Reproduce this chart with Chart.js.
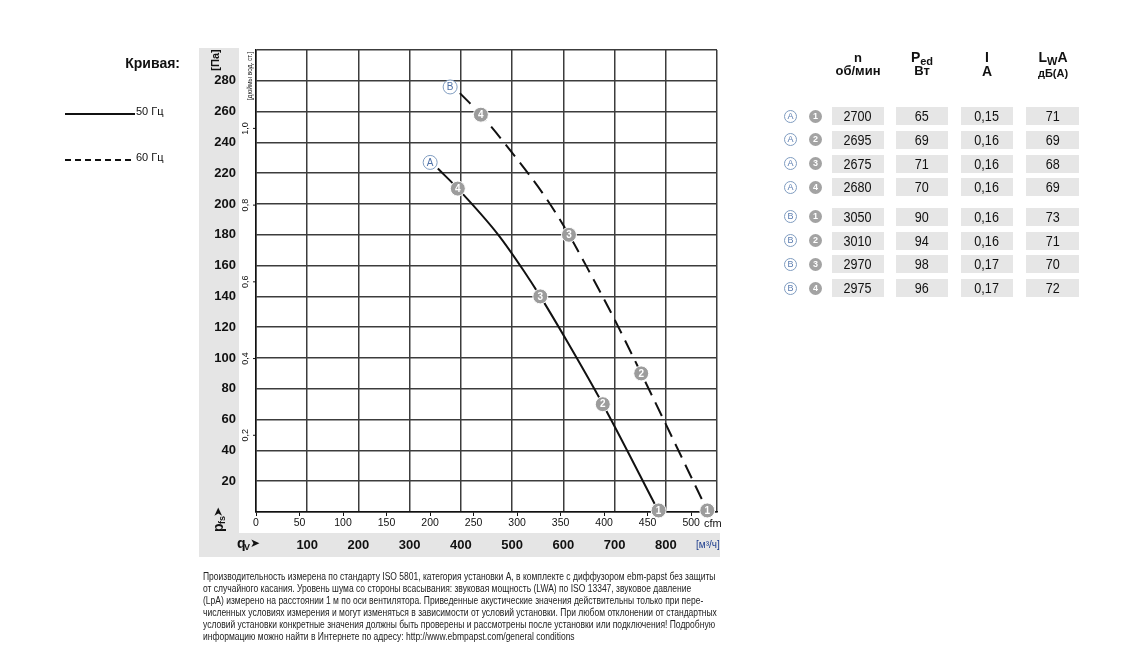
<!DOCTYPE html>
<html>
<head>
<meta charset="utf-8">
<script src="https://cdn.jsdelivr.net/npm/chart.js@4/dist/chart.umd.min.js"></script>
<style>
body { margin: 0; background: #fff; }
#wrap { position: relative; width: 1145px; height: 667px; overflow: hidden;
        font-family: 'Liberation Sans', Arial, sans-serif; color: #111; }
#grafik { position: absolute; left: 0; top: 0; }
.cell { position: absolute; background: #e6e6e6; height: 18px; line-height: 18px; text-align: center; font-size: 14px; }
.cell span { display: inline-block; transform: scaleX(0.9); }
.tete { position: absolute; width: 70px; text-align: center; font-weight: bold; line-height: 1; }
.rond { position: absolute; width: 13px; height: 13px; border-radius: 50%; text-align: center;
        line-height: 13px; font-size: 9px; font-weight: bold; box-sizing: border-box; }
.num { background: #a3a3a3; color: #fff; }
.lettre { background: #fff; border: 1px solid #7f9cc0; color: #5b7db0; line-height: 11px; font-weight: normal; }
#notes { position: absolute; left: 203px; top: 571px; font-size: 10px; line-height: 12px; white-space: nowrap; color: #222;
         transform: scaleX(0.85); transform-origin: 0 0; }
</style>
</head>
<body>
<div id="wrap">
  <canvas id="grafik" width="1145" height="667"></canvas>
  <div id="tableau"></div>
  <div id="notes">Производительность измерена по стандарту ISO 5801, категория установки A, в комплекте с диффузором ebm-papst без защиты<br>от случайного касания. Уровень шума со стороны всасывания: звуковая мощность (LWA) по ISO 13347, звуковое давление<br>(LpA) измерено на расстоянии 1 м по оси вентилятора. Приведенные акустические значения действительны только при пере-<br>численных условиях измерения и могут изменяться в зависимости от условий установки. При любом отклонении от стандартных<br>условий установки конкретные значения должны быть проверены и рассмотрены после установки или подключения! Подробную<br>информацию можно найти в Интернете по адресу: http://www.ebmpapst.com/general conditions</div>
</div>
<script>
// courbes (q en m3/h, p en Pa)
const curveAx = [355, 394, 473, 522, 555, 607, 677, 785];
const curveAy = [223, 210, 180, 157, 140, 111, 70, 1];
const curveBx = [398, 439, 496, 568, 611, 646, 697, 752, 881];
const curveBy = [272, 258, 235, 203, 180, 159, 127, 90, 1];

// points de fonctionnement 1..4
const markNo = ['1', '2', '3', '4'];
const markAx = [786, 677, 555, 394];
const markAy = [1, 70, 140, 210];
const markBx = [881, 752, 611, 439];
const markBy = [1, 90, 180, 258];
const tagNames = ['A', 'B'];
const tagX = [340, 379];
const tagY = [227, 276];

// axes
const paGrid = [0, 20, 40, 60, 80, 100, 120, 140, 160, 180, 200, 220, 240, 260, 280, 300];
const paTicks = [20, 40, 60, 80, 100, 120, 140, 160, 180, 200, 220, 240, 260, 280];
const qGrid = [0, 100, 200, 300, 400, 500, 600, 700, 800, 900];
const qTicks = [100, 200, 300, 400, 500, 600, 700, 800];
const cfmTicks = [0, 50, 100, 150, 200, 250, 300, 350, 400, 450, 500];
const inchTicks = [0.2, 0.4, 0.6, 0.8, 1.0];
const PA_PER_INWC = 249.089;
const M3H_PER_CFM = 1.69901;

// tableau
const rowCurve = ['A', 'A', 'A', 'A', 'B', 'B', 'B', 'B'];
const rowPoint = ['1', '2', '3', '4', '1', '2', '3', '4'];
const rowSpeed = ['2700', '2695', '2675', '2680', '3050', '3010', '2970', '2975'];
const rowPower = ['65', '69', '71', '70', '90', '94', '98', '96'];
const rowCurrent = ['0,15', '0,16', '0,16', '0,16', '0,16', '0,16', '0,17', '0,17'];
const rowNoise = ['71', '69', '68', '69', '73', '71', '70', '72'];

const F = "'Liberation Sans', Arial, sans-serif";

function paires(xs, ys) {
    return xs.map((x, i) => ({x: x, y: ys[i]}));
}

function construireTableau() {
    const t = document.getElementById('tableau');
    let html = '';
    html += '<div class="tete" style="left:823px;top:51px;font-size:13px">n</div>';
    html += '<div class="tete" style="left:823px;top:64px;font-size:13px">об/мин</div>';
    html += '<div class="tete" style="left:887px;top:50px;font-size:14px">P<sub style="font-size:11px;vertical-align:-3px">ed</sub></div>';
    html += '<div class="tete" style="left:887px;top:64px;font-size:13px">Вт</div>';
    html += '<div class="tete" style="left:952px;top:50px;font-size:14px">I</div>';
    html += '<div class="tete" style="left:952px;top:64px;font-size:14px">A</div>';
    html += '<div class="tete" style="left:1018px;top:50px;font-size:14px">L<sub style="font-size:11px;vertical-align:-3px">W</sub>A</div>';
    html += '<div class="tete" style="left:1018px;top:68px;font-size:11px">дБ(А)</div>';
    const cols = [[832, 52, rowSpeed], [896, 52, rowPower], [961, 52, rowCurrent], [1026, 53, rowNoise]];
    for (let i = 0; i < rowSpeed.length; i++) {
        const top = 107 + i * 23.8 + (i >= 4 ? 5.5 : 0);
        html += '<div class="rond lettre" style="left:784px;top:' + (top + 2.5) + 'px">' + rowCurve[i] + '</div>';
        html += '<div class="rond num" style="left:809px;top:' + (top + 2.5) + 'px">' + rowPoint[i] + '</div>';
        for (const c of cols) {
            html += '<div class="cell" style="left:' + c[0] + 'px;top:' + top + 'px;width:' + c[1] + 'px"><span>' + c[2][i] + '</span></div>';
        }
    }
    t.innerHTML = html;
}

const dessins = {
    id: 'dessins',
    beforeDraw(chart) {
        const {ctx, chartArea: a} = chart;
        ctx.save();
        ctx.fillStyle = '#e5e5e5';
        ctx.fillRect(a.left - 57, a.top - 2, 40, a.bottom - a.top + 47);
        ctx.fillRect(a.left - 57, a.bottom + 21, a.right - a.left + 60, 24);
        ctx.restore();
    },
    afterDatasetsDraw(chart) {
        const ctx = chart.ctx;
        ctx.save();
        ctx.textAlign = 'center';
        ctx.textBaseline = 'middle';
        for (const idx of [2, 3]) {
            chart.getDatasetMeta(idx).data.forEach((p, j) => {
                ctx.fillStyle = '#fff';
                ctx.font = 'bold 10px ' + F;
                ctx.fillText(markNo[j], p.x, p.y + 0.5);
            });
        }
        chart.getDatasetMeta(4).data.forEach((p, j) => {
            ctx.fillStyle = '#4f72a8';
            ctx.font = '10px ' + F;
            ctx.fillText(tagNames[j], p.x, p.y + 0.5);
        });
        ctx.restore();
    },
    afterDraw(chart) {
        const {ctx, chartArea: a, scales} = chart;
        const y = scales.y;
        ctx.save();
        ctx.fillStyle = '#111';
        ctx.strokeStyle = '#111';

        // légende des courbes
        ctx.font = 'bold 14px ' + F;
        ctx.textAlign = 'right';
        ctx.textBaseline = 'middle';
        ctx.fillText('Кривая:', 180, 64);
        ctx.lineWidth = 2;
        ctx.beginPath(); ctx.moveTo(65, 114); ctx.lineTo(135, 114); ctx.stroke();
        ctx.setLineDash([6, 4]);
        ctx.beginPath(); ctx.moveTo(65, 160); ctx.lineTo(135, 160); ctx.stroke();
        ctx.setLineDash([]);
        ctx.font = '11px ' + F;
        ctx.textAlign = 'left';
        ctx.fillText('50 Гц', 136, 112);
        ctx.fillText('60 Гц', 136, 158);

        // unités de pression
        ctx.save();
        ctx.translate(216, a.top + 10);
        ctx.rotate(-Math.PI / 2);
        ctx.textAlign = 'center';
        ctx.font = 'bold 11px ' + F;
        ctx.fillText('[Па]', 0, 0);
        ctx.restore();

        ctx.save();
        ctx.translate(250, a.top + 26);
        ctx.rotate(-Math.PI / 2);
        ctx.textAlign = 'center';
        ctx.font = '6.5px ' + F;
        ctx.fillText('[дюймы вод. ст.]', 0, 0);
        ctx.restore();

        // échelle en pouces de colonne d'eau
        ctx.lineWidth = 1;
        inchTicks.forEach(v => {
            const py = y.getPixelForValue(v * PA_PER_INWC);
            ctx.beginPath(); ctx.moveTo(a.left - 3, py); ctx.lineTo(a.left, py); ctx.stroke();
            ctx.save();
            ctx.translate(246, py);
            ctx.rotate(-Math.PI / 2);
            ctx.textAlign = 'center';
            ctx.font = '9px ' + F;
            ctx.fillText(v.toFixed(1).replace('.', ','), 0, 0);
            ctx.restore();
        });

        // p_fs ➤
        ctx.save();
        ctx.translate(219, a.bottom + 20);
        ctx.rotate(-Math.PI / 2);
        ctx.textAlign = 'left';
        ctx.font = 'bold 14px ' + F;
        ctx.fillText('p', 0, 0);
        ctx.font = 'bold 9px ' + F;
        ctx.fillText('fs', 8, 4);
        ctx.font = 'bold 12px DejaVu Sans';
        ctx.fillText('➤', 15, 0);
        ctx.restore();

        // q_V ➤
        ctx.font = 'bold 14px ' + F;
        ctx.textAlign = 'left';
        ctx.fillText('q', 237, a.bottom + 32);
        ctx.font = 'bold 9px ' + F;
        ctx.fillText('V', 244, a.bottom + 36);
        ctx.font = 'bold 12px DejaVu Sans';
        ctx.fillText('➤', 250, a.bottom + 32);

        // unités des débits
        ctx.font = '11px ' + F;
        ctx.fillText('cfm', a.right - 13, a.bottom + 12);
        ctx.fillStyle = '#1f3f8f';
        ctx.font = '10px ' + F;
        ctx.fillText('[м³/ч]', a.right - 21, a.bottom + 33);
        ctx.restore();
    }
};

construireTableau();

window.graphique = new Chart(document.getElementById('grafik'), {
    type: 'scatter',
    data: {
        datasets: [
            {label: 'A', data: paires(curveAx, curveAy), xAxisID: 'x', yAxisID: 'y', order: 2, showLine: true,
             borderColor: '#111', borderWidth: 2, pointRadius: 0, cubicInterpolationMode: 'monotone'},
            {label: 'B', data: paires(curveBx, curveBy), xAxisID: 'x', yAxisID: 'y', order: 2, showLine: true,
             borderColor: '#111', borderWidth: 2, borderDash: [15, 8], pointRadius: 0, cubicInterpolationMode: 'monotone'},
            {label: 'points A', data: paires(markAx, markAy), xAxisID: 'x', yAxisID: 'y', order: 1, clip: false,
             pointRadius: 7.5, backgroundColor: '#9c9c9c', borderColor: '#fff', borderWidth: 1},
            {label: 'points B', data: paires(markBx, markBy), xAxisID: 'x', yAxisID: 'y', order: 1, clip: false,
             pointRadius: 7.5, backgroundColor: '#9c9c9c', borderColor: '#fff', borderWidth: 1},
            {label: 'courbes', data: paires(tagX, tagY), xAxisID: 'x', yAxisID: 'y', order: 0, clip: false,
             pointRadius: 7, backgroundColor: '#fff', borderColor: '#7f9cc0', borderWidth: 1}
        ]
    },
    options: {
        responsive: false,
        animation: false,
        events: [],
        layout: {padding: {left: 196, top: 50, right: 428, bottom: 110}},
        plugins: {legend: {display: false}, tooltip: {enabled: false}},
        scales: {
            x: {
                type: 'linear', position: 'bottom', weight: 1, min: 0, max: 900,
                afterBuildTicks: s => { s.ticks = qGrid.map(v => ({value: v})); },
                ticks: {callback: v => qTicks.includes(v) ? String(v) : '', padding: 5, color: '#111',
                        maxRotation: 0, font: {family: F, size: 13, weight: 'bold'}},
                grid: {color: '#3c3c3c', lineWidth: 1.5, drawTicks: false},
                border: {display: false},
                afterFit: s => { s.height = 24; }
            },
            y: {
                type: 'linear', position: 'left', min: 0, max: 300,
                afterBuildTicks: s => { s.ticks = paGrid.map(v => ({value: v})); },
                ticks: {callback: v => paTicks.includes(v) ? String(v) : '', padding: 20, color: '#111',
                        font: {family: F, size: 13, weight: 'bold'}},
                grid: {color: '#3c3c3c', lineWidth: 1.5, drawTicks: false},
                border: {color: '#111', width: 1.5},
                afterFit: s => { s.width = 60; }
            },
            xc: {
                type: 'linear', position: 'bottom', weight: 0, min: 0, max: 900 / M3H_PER_CFM,
                afterBuildTicks: s => { s.ticks = cfmTicks.map(v => ({value: v})); },
                ticks: {padding: 1, color: '#111', maxRotation: 0, font: {family: F, size: 10.5}},
                grid: {drawOnChartArea: false, drawTicks: true, tickLength: 4, color: '#111', lineWidth: 1},
                border: {color: '#111', width: 1.5},
                afterFit: s => { s.height = 21; }
            }
        }
    },
    plugins: [dessins]
});
</script>
</body>
</html>
